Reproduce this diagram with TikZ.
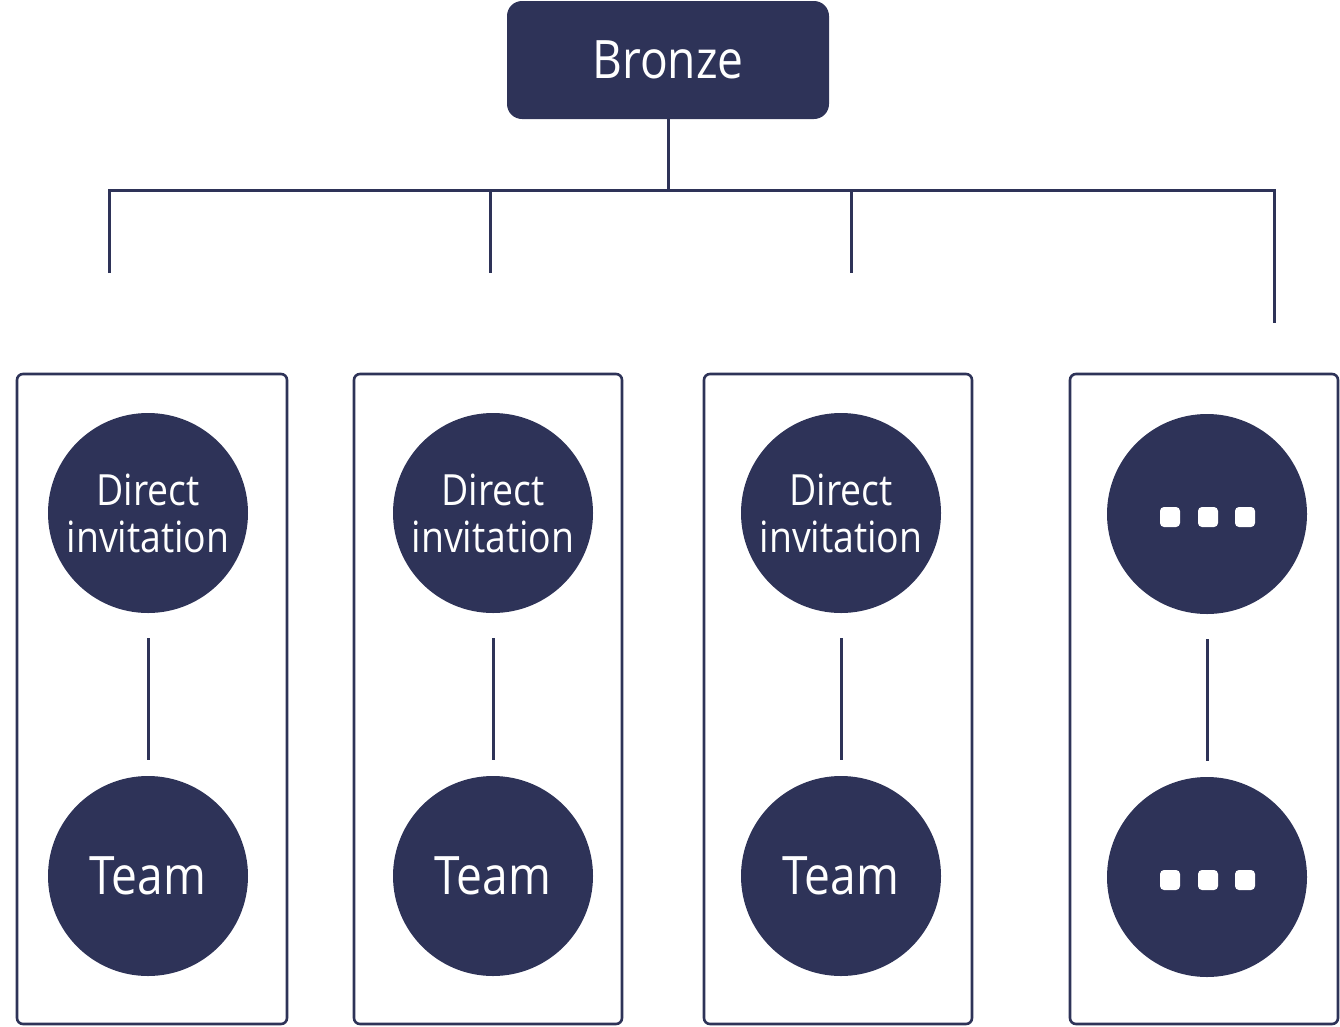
\documentclass[tikz,border=0pt]{standalone}
\usepackage{fontspec}
\setmainfont{Open Sans}[FakeStretch=0.87]
\definecolor{navy}{RGB}{46,51,88}
\begin{document}
\begin{tikzpicture}[x=1pt,y=-1pt,
  link/.style={draw=navy,line width=3pt},
  panel/.style={draw=navy,line width=2.6pt,rounded corners=6pt,
    minimum width=268pt,minimum height=650pt,inner sep=0pt},
  headbox/.style={fill=navy,rounded corners=15pt,minimum width=322pt,
    minimum height=118pt,text=white,font=\fontsize{53}{60}\selectfont},
  disc/.style={circle,fill=navy,minimum size=200pt,inner sep=0pt,
    text=white,align=center},
  invite/.style={disc,font=\fontsize{43}{47}\selectfont},
  teamdisc/.style={disc,font=\fontsize{53}{60}\selectfont},
  dot/.style={fill=white,rounded corners=4pt,minimum size=20pt,inner sep=0pt}
]
\useasboundingbox (0,0) rectangle (1340,1026);

% top box and its branch line
\node[headbox] (bronze) at (668,60) {Bronze};
\coordinate (hub) at (668,190);
\coordinate (c1) at (109,190);
\coordinate (c2) at (490,190);
\coordinate (c3) at (851,190);
\coordinate (c4) at (1274,190);
\coordinate (e1) at (109,273);
\coordinate (e2) at (490,273);
\coordinate (e3) at (851,273);
\coordinate (e4) at (1274,323);

\draw[link] (bronze.south) -- (hub);
\draw[link,line join=miter] (e1) -- (c1) -- (c4) -- (e4);
\draw[link] (c2) -- (e2);
\draw[link] (c3) -- (e3);

% panels
\node[panel,minimum width=270pt] (p1) at (152,699) {};
\node[panel] (p2) at (488,699) {};
\node[panel] (p3) at (838,699) {};
\node[panel] (p4) at (1204,699) {};

% discs
\node[invite] (d1) at (148,513) {Direct\\invitation};
\node[teamdisc] (t1) at (148,876) {Team};
\node[invite] (d2) at (493,513) {Direct\\invitation};
\node[teamdisc] (t2) at (493,876) {Team};
\node[invite] (d3) at (841,513) {Direct\\invitation};
\node[teamdisc] (t3) at (841,876) {Team};
\node[disc] (d4) at (1207,514) {};
\node[disc] (t4) at (1207,877) {};

% ellipsis marks
\node[dot] (a1) at (1170,517) {};
\node[dot] (a2) at (1208,517) {};
\node[dot] (a3) at (1245,517) {};
\node[dot] (b1) at (1170,880) {};
\node[dot] (b2) at (1208,880) {};
\node[dot] (b3) at (1245,880) {};

% links inside the panels
\foreach \i in {1,2,3,4}
  \draw[link,shorten <=25pt,shorten >=16pt] (d\i.south) -- (t\i.north);
\end{tikzpicture}
\end{document}
